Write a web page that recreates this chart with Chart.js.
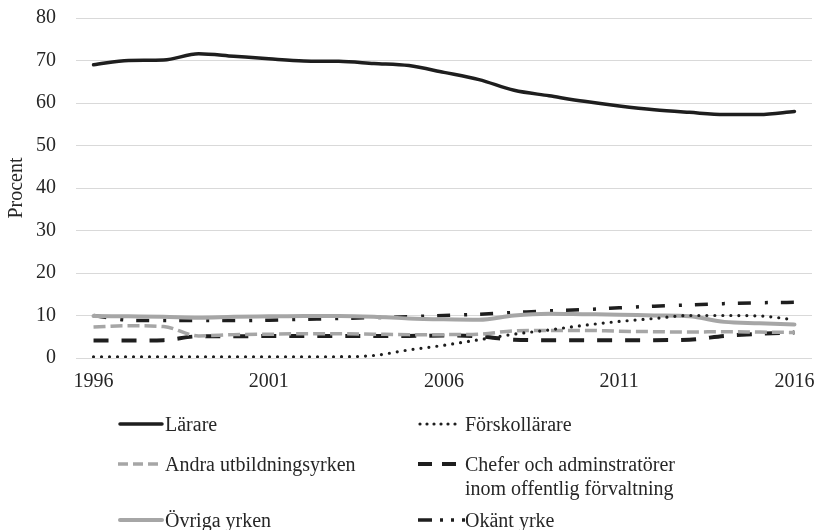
<!DOCTYPE html>
<html><head><meta charset="utf-8">
<script src="https://cdn.jsdelivr.net/npm/chart.js@4/dist/chart.umd.min.js"></script>
<style>
html,body{margin:0;padding:0;background:#fff;}
#wrap{position:relative;width:817px;height:530px;}
#c{position:absolute;left:0;top:0;}
.leg{position:absolute;font-family:"Liberation Serif",serif;font-size:20px;color:#262626;line-height:24px;white-space:nowrap;}
.leg svg{position:absolute;left:0;top:7px;}
.leg span{position:absolute;top:0;}
</style></head>
<body><div id="wrap"><canvas id="c" width="817" height="530"></canvas></div>
<script>
const years = ['1996','1997','1998','1999','2000','2001','2002','2003','2004','2005','2006','2007','2008','2009','2010','2011','2012','2013','2014','2015','2016'];
const larare       = [69.0,70.0,70.1,71.6,71.0,70.4,69.9,69.8,69.3,68.8,67.2,65.5,63.0,61.7,60.4,59.3,58.4,57.8,57.3,57.3,58.0];
const forskollarare= [0.3,0.3,0.3,0.3,0.3,0.3,0.3,0.3,0.6,1.9,3.0,4.3,5.6,6.6,7.7,8.6,9.3,10.0,10.0,9.9,9.0];
const andra        = [7.3,7.6,7.4,5.2,5.5,5.6,5.7,5.7,5.6,5.5,5.5,5.6,6.4,6.5,6.5,6.3,6.2,6.1,6.2,6.1,6.0];
const chefer       = [4.1,4.1,4.2,5.1,5.1,5.2,5.2,5.2,5.2,5.2,5.3,5.1,4.3,4.2,4.2,4.2,4.2,4.3,5.2,5.7,6.0];
const ovriga       = [9.9,9.8,9.7,9.5,9.7,9.8,9.9,9.9,9.7,9.3,9.1,9.0,10.0,10.4,10.3,10.2,10.0,9.8,8.5,8.2,7.9];
const okant        = [10.0,8.9,8.8,8.8,8.8,8.9,9.1,9.3,9.5,9.7,10.0,10.3,10.7,11.1,11.4,11.8,12.2,12.5,12.8,13.0,13.1];
const seriesNames = ['Lärare','Förskollärare','Andra utbildningsyrken','Chefer och adminstratörer|inom offentlig förvaltning','Övriga yrken','Okänt yrke'];
const yTicks = [0,10,20,30,40,50,60,70,80];

const styles = [
  {color:'#1e1e1e', width:3.5, dash:[], cap:'round'},
  {color:'#1e1e1e', width:3.2, dash:[0,8], cap:'round'},
  {color:'#a6a6a6', width:3.5, dash:[12,5], cap:'butt'},
  {color:'#1e1e1e', width:4, dash:[15,13], cap:'butt'},
  {color:'#a6a6a6', width:4, dash:[], cap:'round'},
  {color:'#1e1e1e', width:3.5, dash:[13,14,3,13], cap:'butt'}
];
const legDashes = [[], [0,7], [10,5], [14,10], [], [14,8,3,8,3,8,3,40]];
const values = [larare, forskollarare, andra, chefer, ovriga, okant];
const FONT = '"Liberation Serif", serif';

const datasets = values.map((v,i)=>({
  label: seriesNames[i].replace('|',' '),
  data: v,
  borderColor: styles[i].color,
  borderWidth: styles[i].width,
  borderDash: styles[i].dash,
  borderCapStyle: styles[i].cap,
  pointRadius: 0,
  fill: false,
  cubicInterpolationMode: 'monotone'
}));

new Chart(document.getElementById('c'), {
  type: 'line',
  data: {labels: years, datasets: datasets},
  options: {
    responsive: false,
    animation: false,
    layout: {padding: {left: 0, right: 5, top: 18, bottom: 130}},
    plugins: {legend: {display: false}, tooltip: {enabled: false}},
    scales: {
      x: {
        offset: true,
        grid: {display: false, drawTicks: false},
        border: {display: false},
        ticks: {
          autoSkip: false, maxRotation: 0, padding: 12,
          color: '#262626', font: {family: FONT, size: 20},
          callback: function(val, idx){ return idx % 5 === 0 ? years[idx] : ''; }
        },
        afterFit: s => { s.height = 42; s.paddingLeft = 0; s.paddingRight = 0; }
      },
      y: {
        min: 0, max: 80,
        afterBuildTicks: s => { s.ticks = yTicks.map(v=>({value:v})); },
        grid: {color: '#d9d9d9', lineWidth: 1, drawTicks: false},
        border: {display: false},
        ticks: {padding: 20, color: '#262626', font: {family: FONT, size: 20}},
        title: {display: true, text: 'Procent', color: '#262626', font: {family: FONT, size: 20}, padding: {top: 5, bottom: 0}},
        afterFit: s => { s.width = 76; s.paddingTop = 0; s.paddingBottom = 0; }
      }
    }
  }
});

// HTML legend built from series names and styles
const legPos = [[118,412],[418,412],[118,452],[418,452],[118,508],[418,508]];
const wrap = document.getElementById('wrap');
seriesNames.forEach((name,i)=>{
  const d = document.createElement('div');
  d.className = 'leg';
  d.style.left = legPos[i][0]+'px';
  d.style.top = legPos[i][1]+'px';
  const st = styles[i];
  const svgNS = 'http://www.w3.org/2000/svg';
  const svg = document.createElementNS(svgNS,'svg');
  svg.setAttribute('width','48'); svg.setAttribute('height','10');
  const ln = document.createElementNS(svgNS,'line');
  ln.setAttribute('x1', st.cap==='round' ? 2 : 0); ln.setAttribute('x2', i===5 ? 47 : 44); ln.setAttribute('y1',5); ln.setAttribute('y2',5);
  ln.setAttribute('stroke', st.color); ln.setAttribute('stroke-width', st.width);
  ln.setAttribute('stroke-linecap', st.cap);
  if (legDashes[i].length) ln.setAttribute('stroke-dasharray', legDashes[i].join(' '));
  svg.appendChild(ln);
  d.appendChild(svg);
  const sp = document.createElement('span');
  sp.style.left = '47px';
  sp.innerHTML = name.split('|').join('<br>');
  d.appendChild(sp);
  wrap.appendChild(d);
});
</script>
</body></html>
